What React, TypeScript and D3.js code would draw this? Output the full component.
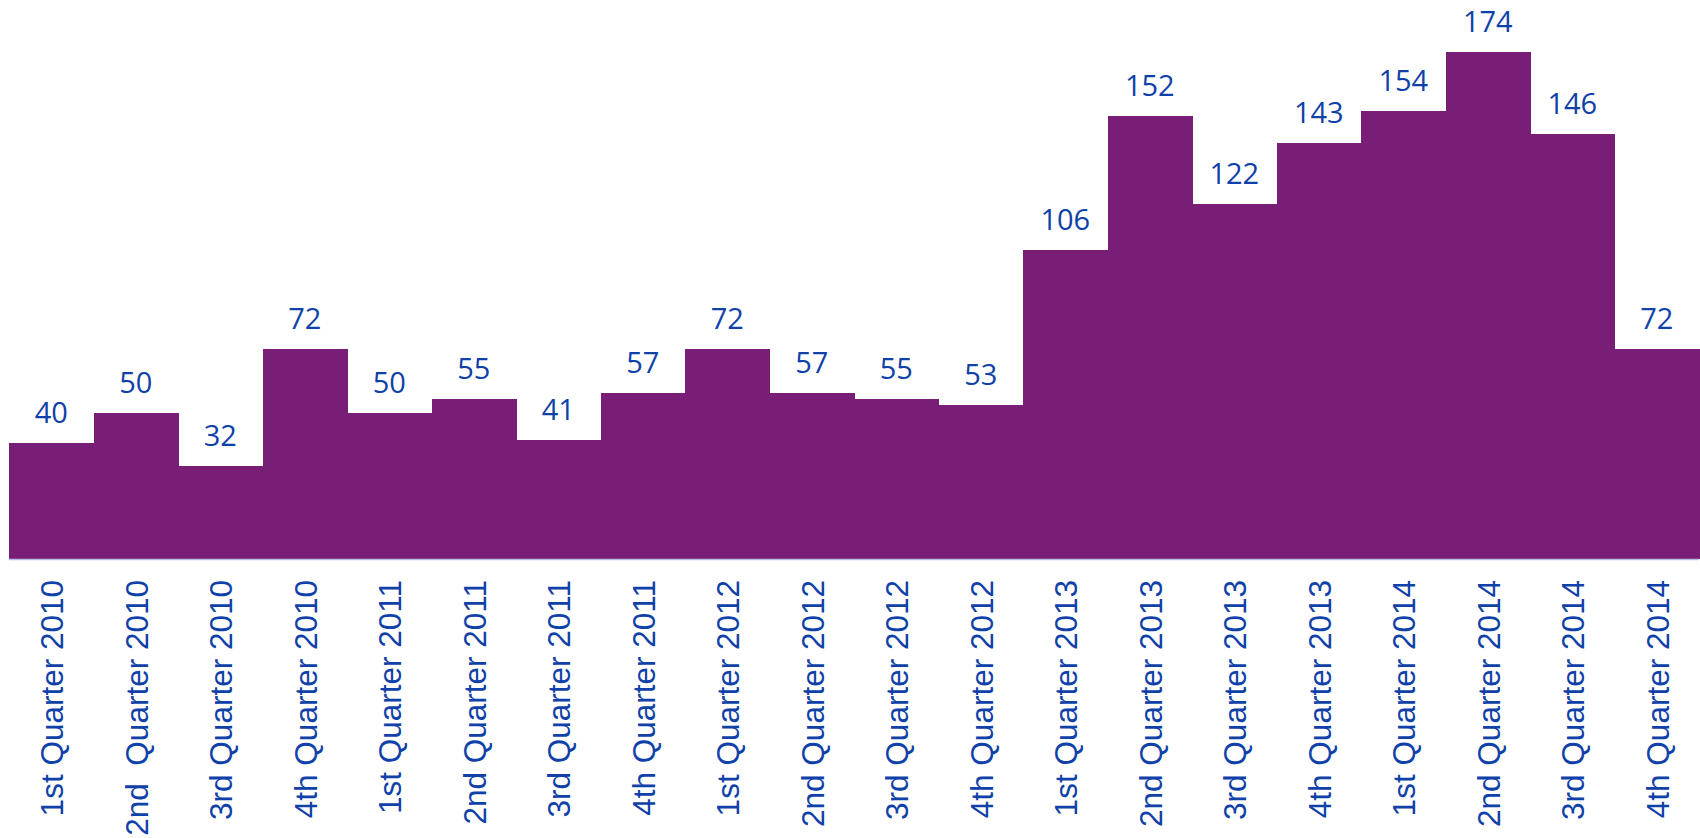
import React from "react";
import * as d3 from "d3";

const categories = [
  "1st Quarter 2010", "2nd  Quarter 2010", "3rd Quarter 2010", "4th Quarter 2010",
  "1st Quarter 2011", "2nd Quarter 2011", "3rd Quarter 2011", "4th Quarter 2011",
  "1st Quarter 2012", "2nd Quarter 2012", "3rd Quarter 2012", "4th Quarter 2012",
  "1st Quarter 2013", "2nd Quarter 2013", "3rd Quarter 2013", "4th Quarter 2013",
  "1st Quarter 2014", "2nd Quarter 2014", "3rd Quarter 2014", "4th Quarter 2014",
];
const values = [40, 50, 32, 72, 50, 55, 41, 57, 72, 57, 55, 53, 106, 152, 122, 143, 154, 174, 146, 72];

const W = 1700;
const H = 838;
const PURPLE = "#781e77";
const BLUE = "#0f41a8";

export default function App() {
  // band for each quarter, no gaps between bars
  const x = d3.scaleBand<string>().domain(categories).range([9, 1699]).padding(0);
  const y = d3.scaleLinear().domain([0, 192]).range([559, 0]);
  const bw = x.bandwidth();

  return (
    <div style={{ position: "absolute", left: 0, top: 0 }}>
      <svg width={W} height={H} style={{ display: "block" }}>
        <g shapeRendering="crispEdges">
          {values.map((v, i) => (
            <rect
              key={i}
              x={x(categories[i])}
              y={y(v)}
              width={bw + 0.5}
              height={y(0) - y(v)}
              fill={PURPLE}
            />
          ))}
        </g>
        <line x1={9} x2={1699} y1={y(0) + 0.5} y2={y(0) + 0.5} stroke="#b9bde3" strokeWidth={1.5} />

        {values.map((v, i) => (
          <text
            key={"v" + i}
            x={(x(categories[i]) as number) + bw / 2}
            y={y(v) - 20}
            textAnchor="middle"
            fontFamily="'Open Sans', sans-serif"
            fontSize={29}
            fill={BLUE}
          >
            {v}
          </text>
        ))}

        {categories.map((c, i) => {
          const cx = (x(c) as number) + bw / 2 + 12;
          return (
            <text
              key={"c" + i}
              transform={`translate(${cx},580) rotate(-90)`}
              textAnchor="end"
              fontFamily="'Liberation Sans', Arial, sans-serif"
              fontSize={31.5}
              fill={BLUE}
              style={{ whiteSpace: "pre" }}
            >
              {c}
            </text>
          );
        })}
      </svg>
    </div>
  );
}
